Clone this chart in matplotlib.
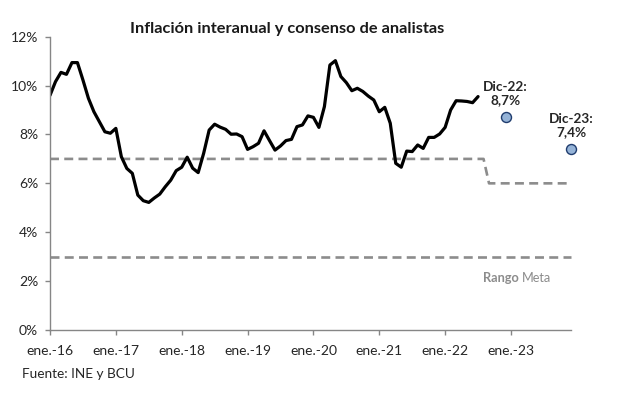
import matplotlib
matplotlib.use("Agg")
import matplotlib.pyplot as plt

# Inflacion interanual (%) mensual, ene-2016 a jul-2022 (INE)
inflacion = [
    9.60, 10.16, 10.54, 10.46, 10.94, 10.94, 10.23, 9.48, 8.93, 8.52, 8.11, 8.05,
    8.25, 7.09, 6.61, 6.41, 5.52, 5.29, 5.22, 5.40, 5.56, 5.86, 6.13, 6.52,
    6.66, 7.07, 6.62, 6.44, 7.23, 8.18, 8.42, 8.30, 8.21, 8.01, 8.02, 7.91,
    7.39, 7.50, 7.64, 8.15, 7.75, 7.36, 7.53, 7.75, 7.80, 8.32, 8.39, 8.76,
    8.70, 8.29, 9.14, 10.84, 11.02, 10.37, 10.12, 9.79, 9.89, 9.76, 9.57, 9.41,
    8.93, 9.11, 8.46, 6.82, 6.66, 7.32, 7.30, 7.57, 7.43, 7.88, 7.88, 8.02,
    8.29, 9.00, 9.38, 9.37, 9.35, 9.30, 9.55,
]

# rango meta del BCU: techo 7% hasta ago-22, luego 6%; piso 3%
meta_techo = [7.0] * 80 + [6.0] * 16
meta_piso = [3.0] * 96

# consenso de analistas (indice de mes desde ene-16)
consenso_mes = [83, 95]
consenso_valor = [8.7, 7.4]
consenso_texto = ["Dic-22:\n8,7%", "Dic-23:\n7,4%"]

anios = ["16", "17", "18", "19", "20", "21", "22", "23"]
ticks_y = [0, 2, 4, 6, 8, 10, 12]

FONT = "Lato"
GRIS = "#868686"


def main():
    plt.rcParams["font.family"] = [FONT, "DejaVu Sans"]
    fig = plt.figure(figsize=(6.17, 3.97), dpi=100)
    ax = fig.add_axes([50 / 617, 67 / 397, 550 / 617, 293.3 / 397])

    ax.plot(range(len(meta_techo)), meta_techo, color="#8c8c8c", lw=1.9,
            dashes=(3.4, 2.0))
    ax.plot(range(len(meta_piso)), meta_piso, color="#8c8c8c", lw=1.9,
            dashes=(3.4, 2.0))
    ax.plot(range(len(inflacion)), inflacion, color="black", lw=2.3,
            solid_joinstyle="round", solid_capstyle="round")

    ax.scatter(consenso_mes, consenso_valor, s=52, color="#95b3d7",
               edgecolors="#1f3c6e", linewidths=1.0, zorder=5, clip_on=False)
    for m, v, t in zip(consenso_mes, consenso_valor, consenso_texto):
        ax.annotate(t, (m, v), xytext=(0, 8), textcoords="offset points",
                    ha="center", va="bottom", fontsize=9.8, fontweight="bold",
                    color="#262626", linespacing=1.1)

    ax.set_xlim(0, 550 / 5.488)
    ax.set_ylim(0, 12)
    ax.set_xticks([12 * i for i in range(len(anios))])
    ax.set_xticklabels(["ene.-" + a for a in anios])
    ax.set_yticks(ticks_y)
    ax.set_yticklabels([f"{v}%" for v in ticks_y])

    for s in ["top", "right"]:
        ax.spines[s].set_visible(False)
    ax.spines["bottom"].set_bounds(0, 95)
    for s in ["left", "bottom"]:
        ax.spines[s].set_color(GRIS)
        ax.spines[s].set_linewidth(1.0)
    ax.tick_params(axis="both", colors=GRIS, length=3.5, width=1.0,
                   labelcolor="#262626", labelsize=10)
    ax.tick_params(axis="x", pad=7)
    ax.tick_params(axis="y", pad=5)

    fig.text(287 / 617, 1 - 29 / 397,
             "Inflación interanual y consenso de analistas",
             ha="center", va="center", fontsize=11.8, fontweight="bold",
             color="#1a1a1a")
    fig.text(22 / 617, 1 - 374 / 397, "Fuente: INE y BCU", ha="left",
             va="center", fontsize=9.8, color="#262626")
    fig.text(522 / 617, 1 - 278 / 397, "Rango ", ha="right", va="center",
             fontsize=9.2, fontweight="bold", color="#8c8c8c")
    fig.text(522 / 617, 1 - 278 / 397, "Meta", ha="left", va="center",
             fontsize=9.2, color="#8c8c8c")

    fig.savefig("out.png", dpi=100)


if __name__ == "__main__":
    main()
